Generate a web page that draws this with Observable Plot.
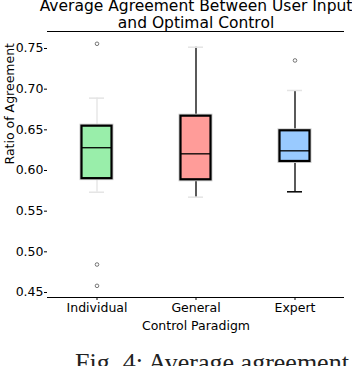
<!DOCTYPE html>
<html>
<head>
<meta charset="utf-8">
<script src="https://cdn.jsdelivr.net/npm/d3@7"></script>
<script src="https://cdn.jsdelivr.net/npm/@observablehq/plot@0.6"></script>
<style>
  html, body { margin: 0; padding: 0; background: #fff; overflow: hidden; }
  #chart { position: relative; width: 352px; height: 366px; overflow: hidden; }
  #caption { position: absolute; left: 75px; top: 349px; font-family: "Liberation Serif", "Times New Roman", serif; font-size: 26px; line-height: 1.1; color: #222; white-space: nowrap; }
</style>
</head>
<body>
<div id="chart"></div>
<script>
const categories = ["Individual", "General", "Expert"];
const q1 = [0.590, 0.5886, 0.6111];
const median = [0.628, 0.6205, 0.6242];
const q3 = [0.6545, 0.6668, 0.6488];
const whiskerLow = [0.5733, 0.5672, 0.5738];
const whiskerHigh = [0.689, 0.7516, 0.6984];
const outlierCategory = ["Individual", "Individual", "Individual", "Expert"];
const outlierValue = [0.7558, 0.4844, 0.4582, 0.7353];
const yTicks = [0.45, 0.50, 0.55, 0.60, 0.65, 0.70, 0.75];
const title = ["Average Agreement Between User Input", "and Optimal Control"];

const fills = {Individual: "#99eeaa", General: "#ff9c99", Expert: "#99caff"};
const whiskerColors = {Individual: "#e4e4e4", General: "#000", Expert: "#000"};

const boxes = categories.map((c, i) => ({
  cat: c, q1: q1[i], med: median[i], q3: q3[i], lo: whiskerLow[i], hi: whiskerHigh[i]
}));
const outliers = outlierCategory.map((c, i) => ({cat: c, v: outlierValue[i]}));

const font = "DejaVu Sans, sans-serif";

const plot = Plot.plot({
  width: 352,
  height: 366,
  marginLeft: 47,
  marginRight: 8,
  marginTop: 31,
  marginBottom: 69,
  style: {fontFamily: font, fontSize: "12.5px", color: "#000", background: "#fff", overflow: "visible"},
  x: {type: "band", domain: categories, padding: 0, label: null},
  y: {domain: [0.44385, 0.7709], label: null},
  marks: [
    // whiskers
    Plot.ruleX(boxes, {x: "cat", y1: "lo", y2: "hi", stroke: d => whiskerColors[d.cat], strokeWidth: 1.3}),
    Plot.tickY(boxes, {x: "cat", y: "hi", stroke: "#e4e4e4", strokeWidth: 1.5, insetLeft: 42, insetRight: 42}),
    Plot.tickY(boxes, {x: "cat", y: "lo", stroke: d => d.cat === "Expert" ? "#000" : "#e4e4e4", strokeWidth: 1.5, insetLeft: 42, insetRight: 42}),
    // box shadow outline
    Plot.barY(boxes, {x: "cat", y1: "q1", y2: "q3", fill: d => fills[d.cat], stroke: "#ccc", strokeWidth: 4, insetLeft: 34.5, insetRight: 34.5}),
    Plot.barY(boxes, {x: "cat", y1: "q1", y2: "q3", fill: d => fills[d.cat], stroke: "#000", strokeWidth: 2.2, insetLeft: 34.5, insetRight: 34.5}),
    Plot.tickY(boxes, {x: "cat", y: "med", stroke: "#000", strokeWidth: 1.3, insetLeft: 34.5, insetRight: 34.5}),
    // outliers
    Plot.dot(outliers, {x: "cat", y: "v", r: 1.8, stroke: "#555", strokeWidth: 0.8, fill: "none"}),
    // spines
    Plot.ruleX([0], {frameAnchor: "left", y1: 0.44385, y2: 0.7709, stroke: "#000", strokeWidth: 1}),
    Plot.ruleY([0.44385], {stroke: "#000", strokeWidth: 1}),
    Plot.ruleY([0.7709], {stroke: "#000", strokeWidth: 1}),
    Plot.axisY({ticks: yTicks, tickFormat: d3.format(".2f"), tickSize: 3, tickPadding: 1, fontSize: 12.5, label: null, stroke: "#000"}),
    Plot.axisX({tickSize: 3, tickPadding: 3, fontSize: 12.5, label: null, stroke: "#000"}),
    // titles and labels
    Plot.text([title[0]], {frameAnchor: "top", dy: -21, fontSize: 15.5, fill: "#000", lineAnchor: "bottom"}),
    Plot.text([title[1]], {frameAnchor: "top", dy: -4, fontSize: 15.5, fill: "#000", lineAnchor: "bottom"}),
    Plot.text(["Control Paradigm"], {frameAnchor: "bottom", dy: 28, fontSize: 12.5, fill: "#000", lineAnchor: "middle"}),
    Plot.text(["Ratio of Agreement"], {frameAnchor: "left", dx: -38, rotate: -90, fontSize: 12.5, fill: "#000", lineAnchor: "middle"})
  ]
});
document.getElementById("chart").appendChild(plot);
const cap = document.createElement("div");
cap.id = "caption";
cap.textContent = "Fig. 4: Average agreement";
document.getElementById("chart").appendChild(cap);
</script>
</body>
</html>
